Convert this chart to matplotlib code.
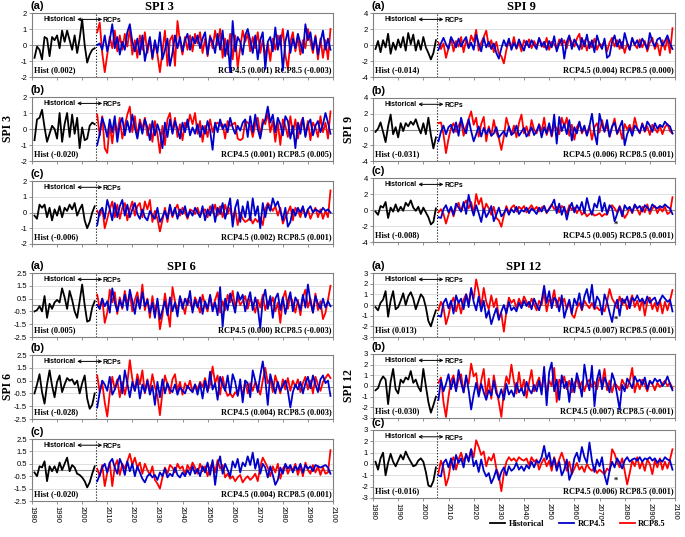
import numpy as np
import matplotlib.pyplot as plt

plt.rcParams['font.family'] = 'Liberation Sans'

hist_years = np.arange(1981, 2006)
rcp_years = np.arange(2006, 2100)

# ---- SPI 3, panels (a), (b), (c)
spi3_hist = [
    [-0.8, -0.1, -0.3, -0.9, 0.5, 0.4, -0.7, 0.5, 0.3, 0.6, -0.2, 0.9, 0.2, 0.9, 0.3, -0.3, 0.6, -0.5, 0.4, 1.6, 0.0, -1.1, -0.6, -0.3, -0.2],
    [-0.7, 0.6, 0.7, 1.2, 0.1, -0.8, -0.3, 0.2, 0.0, -0.6, 1.0, -0.8, 0.3, 1.0, -0.5, 0.9, -0.3, 0.7, -1.2, 0.1, -0.7, -0.6, 0.2, 0.4, 0.3],
    [-0.2, -0.4, 0.5, 0.3, 0.5, -0.3, 0.3, -0.5, 0.2, -0.2, 0.4, -0.3, 0.3, 0.1, 0.5, 0.2, 0.6, -0.2, 0.2, 0.5, -0.5, -1.0, -0.6, 0.0, 0.4],
]
spi3_rcp45 = [
    [0.0, 0.1, -0.3, 0.6, -0.4, 0.3, 1.3, -0.2, 0.5, -0.6,
     0.2, -0.3, 0.8, 1.3, 0.2, -0.4, 0.4, -0.6, 0.6, -1.0,
     -0.2, 0.5, -0.8, 0.3, -0.5, 0.8, -0.9, -0.3, 0.4, -1.3,
     -0.5, 0.6, -0.2, 0.5, -0.4, 0.3, 0.7, -0.3, 0.5, 0.1,
     0.6, -0.2, 0.4, 0.8, -0.6, 0.5, 0.2, -0.5, 0.7, -0.3,
     0.9, -0.7, 0.3, -1.7, 1.5, -0.4, 0.5, 0.2, -0.6, 0.6,
     1.0, 0.3, -0.5, 0.6, -0.9, 0.3, 0.8, -1.5, 0.2, 0.5,
     -0.4, 1.1, -0.3, 0.6, -1.6, 0.2, 0.9, -0.5, 0.4, -0.2,
     0.7, 0.1, -0.5, 1.3, 0.3, 0.8, -0.3, 0.5, -0.6, 0.2,
     0.9, -0.3, 0.4, -0.3],
    [-1.0, -0.3, 0.7, 0.2, -0.5, 0.6, -0.2, 0.8, -0.8, 0.3,
     0.7, -0.4, 0.5, -0.2, 0.9, 0.1, -0.6, 0.4, -0.3, 0.6,
     0.1, -0.7, 0.5, -0.4, 0.3, -0.2, -1.2, 0.4, -0.5, 0.6,
     -0.3, 0.5, 0.0, -0.6, 0.4, -0.2, 0.6, -0.4, 0.1, -0.3,
     0.3, -0.5, 0.2, -0.3, 0.5, -0.1, -1.3, 0.4, -0.2, 0.6,
     0.0, 0.3, -0.2, 0.7, 0.1, -0.3, 0.2, -0.1, 0.4, 0.6,
     -0.5, 0.8, -0.2, 0.9, 0.0, -0.6, 0.3, 0.6, 1.4, 0.4,
     0.9, -0.2, 0.7, 0.3, -0.4, 0.8, 0.5, -0.6, 0.2, -1.2,
     0.4, -0.3, 0.7, -0.5, 0.3, 0.6, -0.4, 0.2, 0.5, -0.2,
     0.3, 1.0, 0.4, -0.3],
    [-0.8, 0.1, 0.3, -0.4, 0.8, 0.2, -0.5, 0.6, -0.3, 0.4,
     0.8, -0.2, 0.5, -0.3, 0.2, 0.6, -0.1, -0.4, 0.2, -0.3,
     -0.5, 0.1, -0.2, -0.4, 0.3, -0.6, -0.3, 0.1, -0.4, 0.5,
     -0.2, 0.3, -0.4, 0.2, -0.1, 0.4, -0.3, 0.1, -0.2, 0.3,
     0.0, -0.3, 0.4, -0.5, 0.2, -0.2, 0.5, -0.6, 0.3, -0.1,
     0.6, -0.4, 0.2, 0.9, -0.9, 0.3, 0.8, -0.6, 0.4, -0.3,
     0.7, -0.5, 0.9, -0.2, 0.4, -1.0, 0.6, -0.3, 0.5, 0.1,
     0.9, 0.4, 0.7, 0.1, -0.5, 0.3, -0.9, -0.6, 0.2, -0.2,
     0.3, 0.0, 0.4, -0.3, 0.2, 0.4, 0.0, 0.2, 0.1, 0.0,
     0.3, 0.1, 0.2, 0.0],
]
spi3_rcp85 = [
    [0.8, 1.4, -0.5, -1.7, -0.6, 0.5, -0.2, 0.9, -0.4, 0.6,
     -0.3, 0.7, -0.1, 1.0, -0.6, 0.3, -0.8, 0.6, -0.3, 0.8,
     -0.5, 0.4, -0.9, 0.2, -0.6, -1.7, -0.4, 0.9, -1.3, 0.3,
     0.6, -1.3, 1.5, 0.2, -0.6, 0.5, -0.3, 0.6, -0.4, 0.7,
     0.1, 0.8, -0.5, 0.4, -0.7, 0.6, -0.2, 0.9, 0.0, 1.0,
     -0.8, 0.4, -0.6, 0.7, -0.9, 0.6, -1.4, -0.2, 0.9, 0.2,
     0.7, -0.4, 0.5, -0.2, 0.8, -0.5, 0.3, -0.7, 0.1, -1.0,
     0.4, -0.3, 0.6, 0.0, 1.0, -0.6, -1.5, 0.2, 0.8, -0.4,
     0.5, -0.6, 0.3, -0.2, 1.0, 0.2, -0.5, 0.6, -0.9, 0.4,
     -0.8, 0.3, -0.9, 1.0],
    [0.9, -0.4, 0.8, -1.2, -1.5, 0.3, -0.9, 0.5, -0.3, 0.7,
     -0.6, 0.2, 0.9, 1.4, -0.2, 0.8, -0.5, 0.6, 0.0, 0.7,
     -0.4, 0.3, -0.8, 0.5, -0.3, -1.5, 0.2, -1.0, 0.6, 1.0,
     -0.2, 0.7, -0.5, 0.3, -0.7, 0.4, 0.1, 0.9, 0.3, 1.0,
     -0.3, 0.5, -0.8, 0.2, -0.5, 0.6, -0.2, 0.3, 0.4, 0.2,
     0.3, -0.6, 0.5, 0.2, 0.3, 0.4, -0.6, -0.7, -0.6, 0.5,
     0.4, 0.2, -0.5, 0.3, 0.7, -0.4, 0.6, 0.3, 1.0, -0.2,
     0.5, -0.8, 0.4, -1.0, 0.6, 0.2, -0.5, 0.8, -0.3, 0.6,
     -0.6, 0.3, 0.7, -0.4, 0.5, -0.7, 0.4, 0.1, -0.5, 0.8,
     -0.2, 0.4, -0.6, 1.1],
    [0.1, -0.2, 0.3, -1.0, -0.4, 0.2, 0.7, -0.3, 0.5, -0.4,
     0.3, 0.6, -0.5, 0.2, 0.7, -0.2, 0.4, 0.6, -0.3, 0.7,
     0.2, 0.8, -0.6, 0.1, -0.4, -1.2, -0.5, 0.3, -0.6, 0.4,
     -0.3, 0.2, 0.5, -0.2, 0.3, 0.0, -0.4, 0.2, 0.1, -0.1,
     0.3, -0.2, 0.1, 0.2, -0.3, 0.4, 0.0, 0.5, -0.2, 0.4,
     -0.3, 0.5, -0.1, 0.3, -0.5, 0.2, -0.8, 0.0, -0.4, -0.6,
     -0.5, -0.3, -0.7, -0.4, -0.6, -0.3, -0.8, 0.2, 0.6, 0.4,
     0.1, 0.4, -0.2, 0.3, -0.7, -0.3, 0.0, 0.4, -0.5, 0.3,
     0.1, -0.3, 0.3, -0.2, 0.2, -0.4, 0.0, 0.3, -0.3, 0.2,
     -0.4, 0.1, -0.3, 1.4],
]

# ---- SPI 6
spi6_hist = [
    [-0.5, -0.4, -0.1, -0.5, 0.7, -1.0, 0.1, -0.3, 0.2, 0.4, 0.2, 1.3, 0.6, -0.3, 1.1, 0.4, -0.5, -1.0, 0.3, 1.6, 0.0, -1.3, -1.2, -0.2, 0.3],
    [-0.5, 0.2, 1.0, -0.4, -1.3, 0.2, 1.3, 0.1, -0.8, 0.4, 0.9, -0.4, 0.2, 0.7, 0.5, 0.6, 0.2, 0.5, -0.5, 0.3, 0.9, -0.9, -1.7, -1.4, -0.5],
    [-0.2, -0.5, 0.3, 0.2, 0.7, -0.9, 0.3, -0.1, 0.3, -0.2, 0.6, 0.0, 0.5, 1.0, -0.1, 0.4, 0.2, -0.3, -0.4, -0.6, -0.9, -1.4, -1.0, -0.3, 0.3],
]
spi6_rcp45 = [
    [0.0, -0.3, 0.5, -0.1, 0.3, -0.6, 1.3, 0.2, -0.5, 0.4,
     -0.2, 0.8, -0.4, 1.2, 0.3, -0.7, 0.6, -0.3, 1.0, -0.1,
     0.4, -0.6, 0.2, -1.0, 0.5, -1.1, -0.4, 0.3, -0.8, 0.6,
     -0.5, 0.2, -0.9, 0.7, -0.3, 0.5, 0.0, 1.1, -0.6, 0.4,
     -0.2, 0.6, -0.7, 0.3, -0.3, 0.8, -0.5, 0.2, -0.8, 1.4,
     -1.7, 0.5, -0.4, 0.9, 0.2, -0.6, 1.0, 0.4, 0.8, -0.5,
     0.3, 1.0, -0.4, 0.6, -0.2, -1.8, 0.4, 1.2, -0.3, 0.7,
     -1.0, 0.5, 0.9, -0.4, 0.6, -0.7, 0.3, 1.0, -0.5, 0.6,
     0.2, -0.4, 0.8, -0.2, 1.6, 0.3, -0.6, 0.7, 0.1, -0.3,
     0.5, -0.2, 0.3, -0.1],
    [-1.6, -0.4, 0.5, 0.2, -0.3, 0.8, -0.6, -0.2, 0.4, 0.9,
     -0.5, 1.3, 0.3, -0.8, 0.4, -0.3, 0.6, -0.9, 0.2, -0.4,
     0.5, -0.6, 0.1, -1.4, 0.4, -0.8, 0.6, -0.5, 0.3, -0.2,
     -0.4, 0.2, -0.6, 0.0, -0.3, -0.5, 0.1, -0.2, -0.4, 0.2,
     -0.6, 0.3, -0.9, 0.5, -0.4, 1.2, -0.2, 0.3, -1.0, 0.8,
     0.2, -0.3, 0.9, -0.5, 1.0, 0.4, -0.7, 0.6, -1.2, 0.5,
     0.3, -0.8, 1.3, 0.5, -0.4, 0.9, 2.0, 0.6, -1.4, 1.0,
     0.2, -0.5, 0.4, -0.3, 0.1, 0.5, -0.3, -1.6, -0.4, 0.2,
     -0.2, 0.4, -0.5, 0.3, 0.8, -0.1, 0.9, 0.2, -0.4, 0.6,
     0.9, 0.3, 0.5, -0.7],
    [-0.9, -0.4, 0.2, 0.5, -0.2, 0.6, 0.9, 0.2, -0.3, 0.9,
     0.4, -0.4, 0.7, -0.1, 0.5, -0.5, 0.3, -0.2, -0.7, -1.0,
     -0.5, -0.3, -0.6, -0.4, -0.8, -0.2, -0.5, 0.1, -0.6, -0.3,
     -0.5, 0.2, -0.4, -0.6, -0.2, -0.5, 0.0, -0.4, 0.3, -0.3,
     0.1, -0.5, 0.3, -0.2, 0.6, -0.4, 0.8, -1.2, 0.4, 1.1,
     -0.3, 0.5, 0.0, -0.5, 0.7, 0.2, 0.9, -0.2, 0.6, 0.3,
     1.1, 0.4, 1.4, 0.1, 0.9, -0.3, 0.5, 0.2, -0.6, 0.3,
     -0.4, -1.2, -0.8, 0.2, -0.3, 0.5, 0.1, 0.4, -0.2, 0.3,
     0.0, 0.5, -0.2, 0.4, 0.1, 0.3, -0.1, 0.4, 0.3, 0.2,
     0.3, 0.4, 0.2, -0.3],
]
spi6_rcp85 = [
    [0.8, -0.3, 0.5, -1.4, -0.6, 1.2, 0.2, 1.0, -0.7, 0.6,
     -0.3, 1.1, 0.0, 0.9, -0.5, 0.4, 1.0, -0.2, 1.6, -0.4,
     0.5, -1.0, 0.7, -0.6, 0.3, -1.9, -0.8, 0.9, -0.4, -1.7,
     1.4, 0.3, -0.5, 0.6, 0.1, -0.7, 0.5, 0.2, -0.4, 0.6,
     0.1, -0.6, 0.8, 0.0, -0.5, 0.7, -0.3, 0.4, 1.0, -0.6,
     0.3, -0.4, 0.8, 0.2, 1.1, -0.2, 0.6, 0.0, 0.3, 0.7,
     -0.3, 0.5, 0.1, -0.6, 0.4, -0.2, 0.8, -0.4, 0.3, 0.0,
     0.6, -0.5, 0.2, -1.4, 0.5, 1.1, -0.3, 0.7, 0.2, -0.6,
     0.4, -0.8, 0.6, 1.2, -0.2, 0.5, -0.6, 0.9, -0.4, 0.3,
     -1.1, -0.6, 0.4, 1.5],
    [0.9, -0.4, 0.3, -1.2, -2.3, -0.5, 0.8, -0.2, 0.6, -0.8,
     0.4, -0.6, 0.3, 2.1, 0.6, -0.3, 1.0, 0.2, 1.3, -0.5,
     0.6, -0.3, 1.0, 0.0, -0.7, -2.2, -0.4, 0.9, 0.2, -0.5,
     0.6, 1.0, -0.3, 0.4, -0.6, 0.3, -0.1, 0.5, -0.4, 0.2,
     -0.2, 0.4, 0.0, 0.7, -0.3, 0.2, 1.6, 0.3, 0.9, -0.6,
     0.8, -0.2, -0.7, -0.5, -0.8, -0.4, -0.6, 0.2, -0.7, 0.5,
     -0.5, 0.3, -0.3, 0.4, 0.0, -0.6, 0.5, 1.5, 0.3, 0.7,
     -0.4, 0.9, 0.2, -0.5, 0.6, -0.2, 0.7, -0.3, 0.5, 0.0,
     0.6, -0.4, 0.3, 0.8, -0.2, 0.5, -0.5, 0.8, 0.2, -0.3,
     0.4, 0.7, 1.0, 0.7],
    [0.1, -0.5, 0.4, -1.3, -0.2, 0.6, -1.3, 0.3, 0.8, -0.4,
     0.5, 0.1, 0.7, 1.3, 0.4, 1.0, 0.2, 0.6, -0.3, 0.5,
     0.0, -0.4, 0.3, -0.8, -1.1, -1.5, -0.6, 0.2, -0.3, 0.4,
     0.2, -0.2, 0.5, 0.1, 0.3, -0.4, 0.4, 0.0, 0.6, 0.2,
     -0.3, 0.5, -0.1, 0.3, -0.5, 0.2, 0.6, -0.2, 0.8, 0.1,
     0.4, -0.6, -0.3, -0.7, -0.5, -0.9, -0.6, -0.4, -1.0, -0.7,
     -0.5, -0.8, -0.6, -0.3, -0.9, 0.3, 1.0, 0.6, 0.2, -0.5,
     0.3, -0.2, 0.5, -0.7, 0.1, 0.4, -0.3, 0.2, 0.0, 0.5,
     -0.4, 0.3, -0.5, 0.6, 0.0, -0.3, 0.4, -0.2, 0.3, -0.4,
     0.2, -0.3, -0.2, 1.6],
]

# ---- SPI 9
spi9_hist = [
    [-0.5, 0.5, -0.9, 0.6, -0.3, 1.4, -1.1, 0.3, -0.6, 0.7, -0.3, 1.0, -0.7, 1.5, 0.1, 1.3, -0.7, 0.6, -0.6, 1.0, -0.3, -1.0, -1.8, -1.0, 0.6],
    [-0.3, 0.1, 0.9, -0.3, -1.6, 0.4, 1.9, -0.6, 0.3, -1.0, 0.8, -0.2, 0.8, 0.4, 1.0, 0.6, 1.3, 0.3, -0.5, 0.8, -0.6, 1.5, -0.7, -2.4, -1.0],
    [-0.2, -0.6, 0.5, 0.3, 1.0, -1.0, 0.3, -0.2, 0.7, -0.2, 0.4, -0.1, 0.9, 0.5, 1.2, 0.3, -0.1, 0.4, -0.5, 0.3, -0.3, -0.9, -1.8, -1.5, 0.2],
]
spi9_rcp45 = [
    [-0.6, 0.2, 0.9, 0.1, -0.5, 1.0, 0.4, -0.3, 0.8, -0.2,
     0.5, 1.0, -0.4, 0.3, -0.6, 1.3, 0.2, -0.8, 0.9, -0.3,
     0.4, -0.5, 0.2, -1.0, -1.7, -0.4, 0.6, -0.2, 0.8, -0.6,
     0.3, -0.4, 0.7, -0.1, -0.7, 0.5, -0.3, 0.6, 0.0, -0.5,
     0.9, -0.2, 0.4, -0.6, 0.5, -0.3, 1.1, -0.8, 0.2, 0.8,
     -1.7, 0.4, 1.2, -0.5, 0.7, 0.1, -0.6, 0.9, -0.2, 1.3,
     -0.4, 0.6, -0.9, 1.2, 0.1, -0.5, 0.8, -1.6, -1.3, 0.4,
     1.2, -0.2, 0.7, -0.4, 1.5, 0.3, -0.6, 0.9, 0.0, 0.6,
     -0.3, 0.8, 0.2, -0.5, 1.5, 0.4, -0.2, 0.7, 0.9, -0.1,
     0.5, 1.2, 0.2, -0.5],
    [-1.5, -0.3, 0.5, -0.6, 0.3, 0.6, -0.4, 0.9, -0.8, 1.5,
     0.2, -0.5, 1.3, -0.2, -1.5, -0.6, 0.4, -0.9, 0.2, -0.6,
     0.1, -0.8, -0.5, 0.3, -1.0, -0.6, -0.2, -0.9, 0.4, -0.7,
     -0.4, 0.5, -0.8, -0.3, 0.2, -0.9, -0.4, 0.3, -0.7, -0.2,
     0.6, -1.0, 0.3, -0.5, 0.8, -0.8, 1.9, -1.8, 1.6, -0.2,
     0.7, -0.6, 1.2, -1.4, 0.3, -0.5, 1.0, -0.3, 0.5, -0.8,
     0.4, 2.0, -0.4, -1.9, 2.0, 0.6, -0.3, 1.2, -0.9, 0.4,
     0.9, -0.5, 0.3, 1.1, -2.0, -0.6, 0.2, -0.8, 0.5, 0.1,
     -0.4, 0.7, -0.2, 1.0, 0.5, -0.3, 0.8, 0.1, 0.6, 0.3,
     1.0, 0.6, 0.4, -0.5],
    [-0.9, -1.0, 0.1, 0.6, -0.3, 0.4, -0.6, 0.8, 0.3, -0.2,
     1.0, -0.5, 1.9, 0.4, -0.7, 0.6, -0.4, -1.5, 0.2, -0.9,
     -0.3, 0.5, -1.4, -0.6, 0.3, -0.8, -0.4, 0.2, -0.6, 0.1,
     -0.3, 0.4, -0.5, 0.0, -0.2, 0.3, -0.4, 0.2, -0.1, -0.5,
     0.3, -0.2, 0.5, -0.3, 0.1, 0.6, 1.3, -0.4, 0.8, -0.6,
     0.4, -1.2, 0.2, 0.9, -0.3, 0.6, 0.0, 1.0, -0.4, 1.5,
     0.2, -0.6, 0.8, 0.3, 1.7, -0.2, 0.9, -0.5, 0.6, 0.2,
     -1.4, -0.5, 0.4, -0.8, 0.6, 0.1, 0.4, -0.3, 0.7, 0.2,
     0.5, -0.2, 0.6, 0.3, -0.1, 0.7, 0.4, 0.2, 0.5, 0.3,
     0.7, 0.4, 0.2, -0.5],
]
spi9_rcp85 = [
    [0.3, -0.5, 0.2, -1.6, -0.4, 0.9, -0.8, 0.5, -0.2, 1.0,
     -0.9, 0.6, -0.3, 1.2, 0.4, 1.9, -0.7, 0.3, 1.0, 1.8,
     -0.2, 0.6, -0.9, 0.4, -1.1, -1.4, -2.3, -0.6, 0.5, -0.3,
     1.0, -0.5, 0.3, -0.8, 0.6, 0.0, 0.7, -0.4, 0.5, -0.2,
     0.8, 0.2, -0.3, 0.9, -0.6, 0.4, 0.1, -0.5, 0.7, 0.0,
     0.6, -0.4, 1.0, 0.3, -0.2, 0.8, 1.4, -0.5, 0.6, -0.7,
     0.4, -0.3, 0.8, -0.6, 0.2, -0.1, 0.5, -0.8, 0.3, 0.9,
     -0.2, 0.6, -0.5, 0.4, -1.0, 0.2, -0.6, 0.8, 0.0, -0.4,
     0.7, -0.3, 0.5, -0.8, 0.3, 0.9, -0.5, 0.2, -1.3, 0.6,
     -0.6, 0.8, -1.0, 2.1],
    [0.8, 0.9, -0.6, -3.0, -1.2, 0.2, 0.8, -0.3, 0.5, 1.1,
     -0.8, 0.4, 1.3, 2.3, 0.6, 1.5, -0.9, 0.7, 1.6, -1.5,
     0.4, -0.8, 1.2, -0.4, -1.1, -2.6, -0.9, 1.5, 0.3, -0.6,
     0.5, -1.0, 0.8, 1.9, -0.5, 0.4, -0.8, 1.2, 0.0, -0.5,
     0.7, -0.3, 1.5, -0.7, 0.4, -0.9, 0.6, 0.1, -0.6, 1.5,
     0.4, 1.5, -0.8, 0.6, -1.3, 0.3, 0.9, -0.5, 0.2, -0.7,
     0.5, -1.3, 0.3, 0.8, -0.4, 1.2, -0.2, 0.5, -0.9, 0.3,
     1.4, -0.6, 0.2, -1.2, 0.7, 0.0, 0.6, -0.4, 1.5, 0.2,
     -0.5, 0.8, -0.3, 0.4, -0.7, 0.6, 0.1, -0.4, 0.5, -0.6,
     0.3, 0.7, -0.2, -0.5],
    [-0.3, 0.1, -0.5, -1.7, -0.6, 0.3, -0.8, 0.4, 0.9, -0.2,
     0.6, 1.2, 0.2, 1.0, -0.4, 2.0, 0.7, 1.5, -0.3, 0.8,
     0.2, -0.6, 0.4, -1.0, -1.3, -2.1, -0.7, 0.5, -0.4, 0.3,
     0.6, -0.2, 0.4, 0.1, 0.5, -0.3, 0.2, 0.6, 0.0, 0.4,
     -0.2, 0.3, 0.5, -0.4, 0.2, 0.7, 0.1, 0.4, -0.3, 0.5,
     0.2, -0.5, 0.6, 0.0, 0.3, -0.4, 0.2, -0.6, -0.2, -0.8,
     -0.5, -0.3, -0.7, -0.6, -0.4, -0.8, -0.5, -0.6, 0.3, 0.6,
     0.2, -0.3, 0.5, -0.2, -1.0, -0.5, 0.3, -0.4, 0.6, 0.1,
     -0.6, 0.4, -0.3, 0.7, -0.5, 0.2, 0.5, -0.4, 0.3, -0.2,
     0.4, -0.5, -0.3, 1.6],
]

# ---- SPI 12
spi12_hist = [
    [-0.2, -0.5, 0.2, 0.5, 1.3, -1.1, 0.4, 1.3, -0.4, -0.2, 0.4, 1.1, 0.0, 0.8, 1.2, 0.6, -0.4, 0.3, 1.0, 0.7, -0.2, -1.5, -2.0, -1.2, -0.5],
    [-0.4, -0.2, 0.5, 0.9, 0.6, -1.7, 0.4, 1.6, -0.3, -0.7, 0.6, 0.3, 0.8, 0.6, 1.4, 0.3, 0.6, -0.1, -0.5, 1.6, 0.0, -1.5, -2.5, -1.8, -1.0],
    [0.2, -0.5, 0.5, 1.0, -1.0, 0.1, 0.9, 0.2, -0.2, 0.3, 0.8, 0.4, 1.1, 0.6, 0.2, -0.2, -0.1, 0.3, 0.5, 0.2, -0.7, -1.9, -2.0, -1.5, -0.3],
]
spi12_rcp45 = [
    [-1.0, -1.1, 0.2, 0.6, -0.3, 0.4, -0.8, 0.9, 0.2, 0.6,
     -0.4, 1.0, -0.2, 1.6, 0.3, -0.5, 0.8, -0.6, 0.4, -1.2,
     -0.5, -1.8, -1.0, -0.3, -1.4, -0.6, 0.0, -0.8, 0.3, -0.5,
     -0.2, -0.6, 0.2, -0.3, 0.4, -0.1, 0.3, -0.4, 0.6, 0.0,
     -0.5, 0.4, 1.8, 0.2, 1.3, -0.3, 0.7, 0.4, -0.6, 0.9,
     -1.2, -0.3, 0.5, -0.8, 0.6, 0.0, 1.1, -0.4, 0.8, 1.5,
     0.2, 1.9, -0.3, 0.8, 0.4, -0.9, 1.0, 0.3, -0.7, -1.6,
     -0.2, 0.5, -1.0, 0.6, 0.2, 0.8, -0.3, 0.7, 0.4, 0.9,
     0.3, 0.6, 0.1, 0.8, 0.2, 0.5, 0.7, 0.0, 0.4, 0.9,
     0.6, 0.3, 0.5, -0.6],
    [-1.3, 0.6, -0.5, 0.2, 1.1, -0.3, 0.7, -0.5, 1.5, 0.3,
     -0.6, 1.0, -0.4, -2.2, -0.8, 0.3, -1.0, 0.2, -0.6, -1.3,
     -0.4, -0.9, 0.5, -0.7, -1.1, -0.3, -1.3, 0.2, -0.8, -0.4,
     -1.0, 0.3, -0.6, -0.2, -0.9, 0.4, -0.3, -0.7, 0.1, -0.5,
     0.5, -0.8, 1.8, -1.8, 1.3, 2.2, -0.5, 0.6, -1.3, 1.0,
     -0.2, 0.4, -1.5, 0.7, -0.6, 1.2, 0.3, -1.0, 2.0, 0.5,
     -0.4, 1.9, -1.9, 0.6, 1.5, -0.3, 0.8, 0.2, -0.6, 1.2,
     0.5, -0.8, -2.2, 0.1, -0.5, 0.7, 0.3, -0.2, 0.9, 0.4,
     0.6, 0.1, 0.8, -0.3, 0.5, 0.2, 0.7, 0.4, 0.6, 0.0,
     0.3, 0.9, 0.2, -0.4],
    [-1.0, -1.1, 0.1, 0.4, -0.3, 0.5, -0.5, 0.8, 0.1, 0.5,
     -0.3, 0.9, 0.2, 1.3, -0.2, 0.3, -0.7, 0.4, -0.6, -1.1,
     -0.8, -1.7, -1.2, -0.5, -1.4, -0.7, -0.3, -1.0, -0.2, -0.6,
     -0.4, 0.1, -0.5, -0.2, -0.6, -0.1, -0.4, 0.2, -0.3, 0.3,
     0.1, 0.6, 1.6, 0.4, 1.0, -0.2, 0.5, -0.6, 0.2, -1.0,
     -0.5, 0.4, -1.4, -0.8, 0.5, 1.0, 0.2, 1.5, 0.6, 0.1,
     1.9, 0.3, -0.7, 0.4, -0.2, 0.6, -1.0, -1.8, -0.6, 0.2,
     -0.3, 0.5, 0.1, -0.4, 0.3, 0.6, 0.2, 0.4, 0.5, 0.3,
     0.6, 0.2, 0.5, 0.4, 0.6, 0.3, 0.5, 0.1, 0.4, 0.2,
     0.6, 0.4, 0.3, -0.5],
]
spi12_rcp85 = [
    [-0.5, 0.3, -0.2, -1.8, -1.0, 0.2, 0.7, -0.6, 0.3, -0.8,
     0.5, 1.0, 0.2, 1.4, 0.6, 2.4, 1.2, -0.2, 1.6, 0.3,
     -0.4, 0.9, -0.2, 0.6, -1.2, -0.8, -2.5, -0.6, 0.7, 0.2,
     0.5, -0.3, 0.6, 0.0, 0.8, 0.3, -0.2, 0.6, 0.1, -0.5,
     0.4, 0.0, 1.2, -0.6, 0.5, 0.3, 1.4, -0.2, 0.7, 0.1,
     0.6, -0.4, 0.3, -0.9, -1.2, -0.3, 0.2, -0.5, 0.4, 0.0,
     -0.3, 0.2, -0.4, -0.2, -0.5, -0.3, -0.6, 0.3, 1.5, 0.6,
     0.2, -0.3, 0.8, 0.0, 0.5, -0.4, 0.3, 0.9, -0.2, 0.4,
     -0.5, 0.6, -1.0, 0.3, 0.7, -0.4, 0.2, -0.6, 0.5, -0.8,
     0.3, -0.5, 0.4, 1.4],
    [0.3, 0.8, -1.5, -2.9, -1.0, 0.5, 1.0, -0.4, 0.6, 1.1,
     -0.6, 0.8, 0.2, 2.1, 0.9, 1.2, -0.8, 0.5, 1.6, -1.0,
     0.7, -1.2, 1.0, -0.3, -1.5, -2.9, -0.5, 0.9, 0.2, 2.0,
     0.4, -0.7, 1.3, -0.4, 0.6, -1.1, 0.3, 1.5, -0.5, 0.2,
     0.8, -0.4, 1.2, -0.8, 0.5, 0.0, 1.7, -1.5, 0.6, 0.3,
     0.9, -0.3, 0.5, -0.6, 0.2, 0.7, -0.2, 0.4, -0.5, 0.3,
     0.6, -0.1, 0.4, -0.3, 0.8, 0.2, 1.6, -0.4, 0.5, -0.6,
     0.3, 0.0, -0.4, 0.6, 0.1, -0.2, 0.5, 1.7, -0.6, 0.4,
     -0.3, 0.6, 0.1, -0.5, 0.4, 0.2, -0.4, 0.3, -0.1, 0.2,
     0.5, 0.0, 0.3, -0.2],
    [-0.8, 0.3, -0.4, -1.9, -1.2, 0.2, 0.6, -0.5, 0.4, 1.0,
     0.2, 0.8, 0.4, 1.3, 0.6, 2.1, 1.5, 0.8, 1.1, -0.2,
     0.6, 0.3, 0.9, -0.4, -1.0, -2.4, -0.8, 0.2, 0.6, 0.3,
     0.5, 0.2, 0.6, 0.4, 0.3, 0.5, -0.1, 0.6, 0.2, 0.4,
     -0.5, 0.1, 0.5, -0.2, 0.3, -0.6, 0.6, -0.3, 0.4, 1.0,
     0.3, -0.6, 0.2, -0.9, -0.4, 0.1, -0.5, -0.2, -0.7, 0.0,
     -0.4, -0.6, -0.3, -0.8, -0.5, -0.7, -0.9, -0.4, -0.6, 1.3,
     0.9, 0.2, -0.3, 0.5, -0.6, -1.8, -0.8, 0.3, -0.2, 0.6,
     -0.4, 0.2, -0.6, 0.4, 0.0, -0.9, 0.3, -0.3, 0.5, -0.5,
     0.2, -0.4, 0.4, 1.3],
]

# trend values printed in each panel
spi3_trend = [('0.002', '0.001', '-0.003'), ('-0.020', '0.001', '0.005'), ('-0.006', '0.002', '0.001')]
spi6_trend = [('0.005', '0.000', '-0.003'), ('-0.028', '0.004', '0.003'), ('-0.020', '0.004', '0.001')]
spi9_trend = [('-0.014', '0.004', '0.000'), ('-0.031', '0.006', '0.001'), ('-0.008', '0.005', '0.001')]
spi12_trend = [('0.013', '0.007', '0.001'), ('-0.030', '0.007', '-0.001'), ('-0.016', '0.006', '0.001')]
spi3_star = [False, False, False]
spi6_star = [False, False, False]
spi9_star = [False, False, True]
spi12_star = [True, False, True]

spi3_ticks = [-2, -1, 0, 1, 2]
spi6_ticks = [-2.5, -1.5, -0.5, 0.5, 1.5, 2.5]
spi9_ticks = [-4, -2, 0, 2, 4]
spi12_ticks = [-3, -2, -1, 0, 1, 2, 3]

panel_letters = ['(a)', '(b)', '(c)']
decades = np.arange(1980, 2101, 10)

W, H = 685, 537
fig = plt.figure(figsize=(W / 100, H / 100), dpi=100)

serif = 'Liberation Serif'


def px_axes(x0, x1, top, bot):
    return fig.add_axes([x0 / W, 1 - bot / H, (x1 - x0) / W, (bot - top) / H])


def draw_panel(ax, hist, r45, r85, ticks, trend, star, letter, bottom):
    assert len(hist) == len(hist_years) and len(r45) == len(rcp_years) and len(r85) == len(rcp_years)
    for t in ticks:
        ax.axhline(t, color='#d9d9d9', lw=0.6, zorder=0)
    ax.axhline(0, color='#8c8c8c', lw=0.8, zorder=1)
    ax.axvline(2005.5, color='black', ls=':', lw=0.8, zorder=1)
    ax.plot(rcp_years, r85, color='#ff0000', lw=1.3, zorder=3)
    ax.plot(rcp_years, r45, color='#0000cc', lw=1.3, zorder=4)
    ax.plot(hist_years, hist, color='black', lw=1.3, zorder=4)
    ax.set_xlim(1980, 2100)
    ax.set_ylim(ticks[0], ticks[-1])
    ax.set_yticks(ticks)
    ax.set_yticklabels([('%g' % t) for t in ticks], fontsize=5.5)
    ax.set_xticks(decades)
    if bottom:
        ax.set_xticklabels([str(d) for d in decades], rotation=-90, fontsize=5.5)
    else:
        ax.set_xticklabels([])
    ax.tick_params(length=2, width=0.6, color='#808080', pad=1.5)
    for s in ax.spines.values():
        s.set_color('#808080')
        s.set_linewidth(0.8)

    tr = ax.get_xaxis_transform()
    ax.text(1997.3, 0.9, 'Historical', transform=tr, ha='right', va='center',
            fontsize=5, fontweight='bold')
    ax.annotate('', xy=(2008, 0.9), xytext=(1998, 0.9), xycoords=tr, textcoords=tr,
                arrowprops=dict(arrowstyle='<->', lw=0.7, color='black',
                                shrinkA=0, shrinkB=0, mutation_scale=5))
    ax.text(2008.3, 0.88, 'RCPs', transform=tr, ha='left', va='center',
            fontsize=5, fontweight='bold')
    ax.text(0.008, 0.04, 'Hist (%s)' % trend[0], transform=ax.transAxes,
            ha='left', va='bottom', fontsize=6, fontweight='bold', family=serif)
    ax.text(0.995, 0.04, 'RCP4.5 (%s) RCP8.5 (%s)' % (trend[1], trend[2]),
            transform=ax.transAxes, ha='right', va='bottom', fontsize=6,
            fontweight='bold', family=serif)
    if star:
        ax.text(0.805, 0.2, '*', transform=ax.transAxes, ha='center', va='bottom',
                fontsize=6, fontweight='bold', family=serif)
    ax.text(-0.006, 1.0 + 7 / 64, letter, transform=ax.transAxes, ha='left',
            va='center', fontsize=8, fontweight='bold')


left_rows = [(13, 77), (97, 161), (181, 244), (273, 337), (355, 419), (439, 501)]
right_rows = [(13, 77), (98, 161), (178, 242), (273, 337), (354, 418), (430, 498)]

groups = [
    (32, 333, left_rows[:3], spi3_hist, spi3_rcp45, spi3_rcp85, spi3_ticks, spi3_trend, spi3_star, 'SPI 3', 159, 8, False),
    (32, 333, left_rows[3:], spi6_hist, spi6_rcp45, spi6_rcp85, spi6_ticks, spi6_trend, spi6_star, 'SPI 6', 181, 8, True),
    (373, 675, right_rows[:3], spi9_hist, spi9_rcp45, spi9_rcp85, spi9_ticks, spi9_trend, spi9_star, 'SPI 9', 521, 349, False),
    (373, 675, right_rows[3:], spi12_hist, spi12_rcp45, spi12_rcp85, spi12_ticks, spi12_trend, spi12_star, 'SPI 12', 524, 349, True),
]

for x0, x1, rows, hists, r45s, r85s, ticks, trends, stars, name, tx, lx, last in groups:
    for i, (top, bot) in enumerate(rows):
        ax = px_axes(x0, x1, top, bot)
        draw_panel(ax, hists[i], r45s[i], r85s[i], ticks, trends[i], stars[i],
                   panel_letters[i], last and i == 2)
        if i == 0:
            fig.text(tx / W, 1 - (top - 6) / H, name, ha='center', va='center',
                     fontsize=9, fontweight='bold', family=serif)
        if i == 1:
            fig.text(lx / W, 1 - (top + bot) / 2 / H, name, ha='center', va='center',
                     rotation=90, fontsize=8.5, fontweight='bold', family=serif)

# legend
handles = [plt.Line2D([], [], color='black', lw=1.3),
           plt.Line2D([], [], color='#0000cc', lw=1.3),
           plt.Line2D([], [], color='#ff0000', lw=1.3)]
fig.legend(handles, ['Historical', 'RCP4.5', 'RCP8.5'], loc='center',
           bbox_to_anchor=(578 / W, 1 - 524 / H), ncol=3, frameon=False,
           handlelength=1.8, handletextpad=0.4, columnspacing=1.8,
           prop={'family': serif, 'weight': 'bold', 'size': 6})

fig.savefig('out.png', dpi=100)
